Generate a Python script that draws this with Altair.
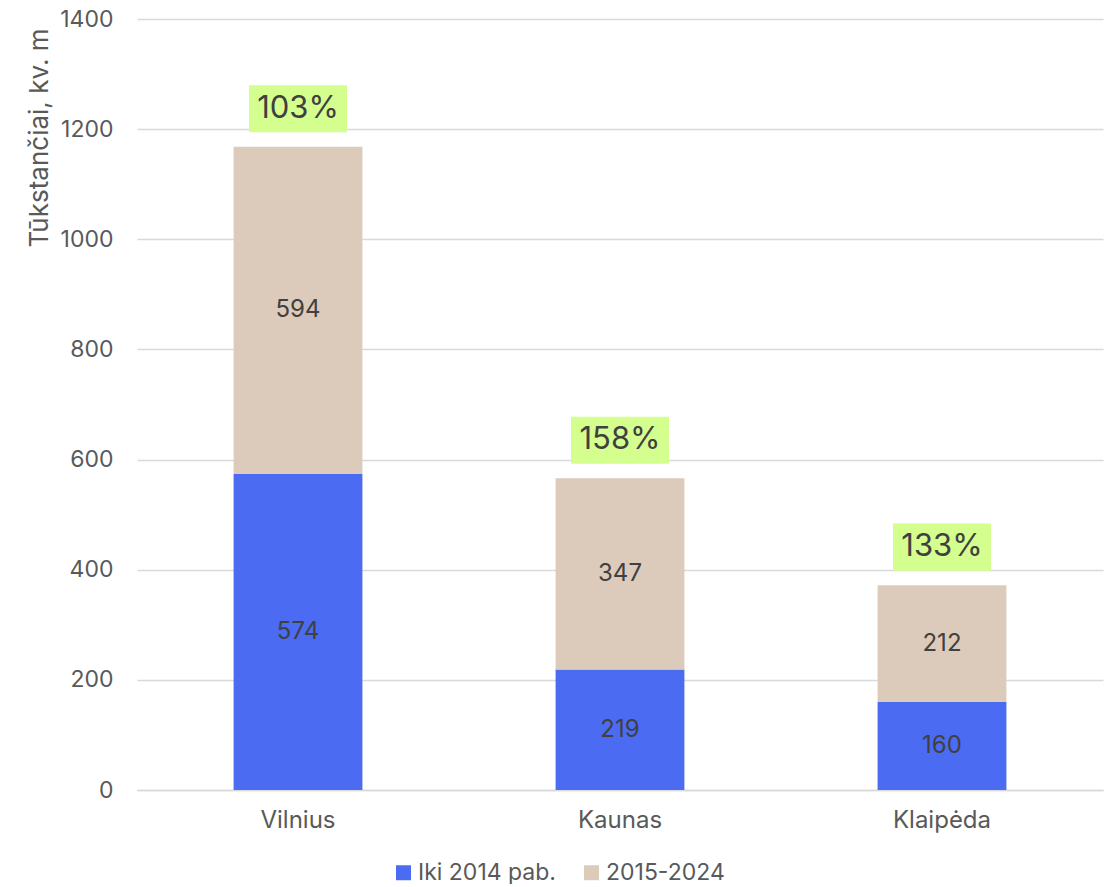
import altair as alt
import pandas as pd

cities = ["Vilnius", "Kaunas", "Klaipėda"]
series = ["Iki 2014 pab.", "2015-2024"]
before = [574, 219, 160]
after = [594, 347, 212]
pct_labels = ["103%", "158%", "133%"]
colors = ["#4B6BF3", "#DCCBBA"]

rows = []
for i, c in enumerate(cities):
    rows.append({"city": c, "period": series[0], "value": before[i], "order": 0})
    rows.append({"city": c, "period": series[1], "value": after[i], "order": 1})
df = pd.DataFrame(rows)

tot = pd.DataFrame({
    "city": cities,
    "total": [b + a for b, a in zip(before, after)],
    "pct": pct_labels,
})

FONT = "Inter"

x = alt.X("city:N", sort=cities, title=None,
          scale=alt.Scale(paddingInner=0.6, paddingOuter=0.3),
          axis=alt.Axis(labelAngle=0, labelFontSize=24, labelColor="#595959",
                        labelFont=FONT, ticks=False, domain=True,
                        domainColor="#d9d9d9", domainWidth=1.5, labelPadding=18))

y_scale = alt.Scale(domain=[0, 1400])

bars = alt.Chart(df).mark_bar().encode(
    x=x,
    y=alt.Y("value:Q", stack="zero", scale=y_scale,
            title="Tūkstančiai, kv. m",
            axis=alt.Axis(values=[0, 200, 400, 600, 800, 1000, 1200, 1400],
                          format="d",
                          labelFontSize=23, labelColor="#595959", labelFont=FONT,
                          ticks=False, domain=False, grid=True,
                          gridColor="#d9d9d9", gridWidth=1.5, labelPadding=24,
                          titleFont=FONT, titleFontSize=26, titleFontWeight="normal",
                          titleColor="#595959", titleAngle=-90, titleX=-98,
                          titleY=9, titleAlign="right", titleBaseline="middle")),
    color=alt.Color("period:N", sort=series,
                    scale=alt.Scale(domain=series, range=colors),
                    legend=alt.Legend(title=None, orient="none", direction="horizontal",
                                      legendX=255, legendY=842, symbolType="square",
                                      symbolSize=225, symbolStrokeWidth=0,
                                      labelFontSize=23, labelColor="#595959",
                                      labelFont=FONT, columnPadding=24,
                                      symbolOffset=0, labelOffset=3)),
    order=alt.Order("order:Q"),
)

labels = alt.Chart(df).transform_stack(
    stack="value", as_=["v0", "v1"], groupby=["city"],
    sort=[alt.SortField("order")]
).transform_calculate(
    mid="(datum.v0 + datum.v1) / 2"
).mark_text(font=FONT, fontSize=24, color="#404040", baseline="middle").encode(
    x=alt.X("city:N", sort=cities),
    y=alt.Y("mid:Q", scale=y_scale),
    text=alt.Text("value:Q"),
)

boxes = alt.Chart(tot).mark_point(
    shape="M-1,-0.48L1,-0.48L1,0.48L-1,0.48Z", filled=True, opacity=1,
    strokeWidth=0, color="#D4FE8E", size=9604, yOffset=-38
).encode(
    x=alt.X("city:N", sort=cities),
    y=alt.Y("total:Q", scale=y_scale),
)

pct = alt.Chart(tot).mark_text(
    font=FONT, fontSize=31, color="#404040", baseline="middle", yOffset=-38
).encode(
    x=alt.X("city:N", sort=cities),
    y=alt.Y("total:Q", scale=y_scale),
    text="pct:N",
)

chart = alt.layer(bars, labels, boxes, pct).properties(
    width=966, height=771,
    autosize=alt.AutoSizeParams(type="none"),
    padding={"left": 129, "top": 11, "right": 2, "bottom": 94},
).configure(background="white").configure_view(stroke=None)

chart.save("out.html", embed_options={"renderer": "svg", "actions": False})
